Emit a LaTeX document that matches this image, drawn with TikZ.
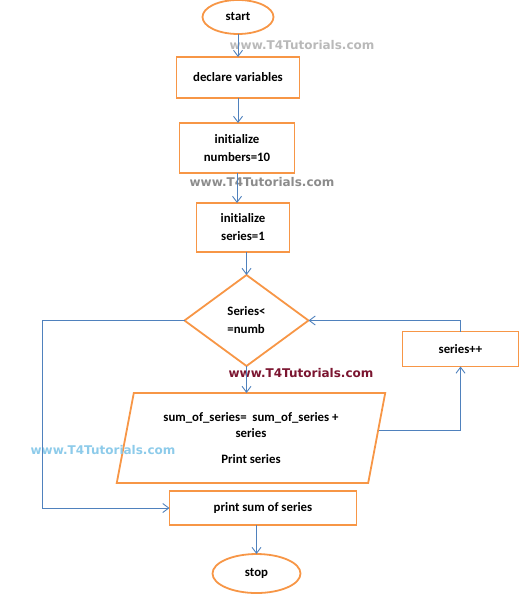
\documentclass[tikz,border=0pt]{standalone}
\usepackage{fontspec}
\setmainfont{Carlito}[Ligatures=NoCommon]
\newfontfamily\markfont{DejaVu Sans}
\usepackage{xcolor}
\usetikzlibrary{shapes.geometric, positioning, arrows.meta}
\definecolor{flowOrange}{HTML}{F79646}
\definecolor{flowBlue}{HTML}{4F81BD}
\definecolor{markRed}{HTML}{7B1530}
\definecolor{markBlue}{HTML}{8DCBEA}
\newcommand{\boxcolor}{flowOrange}
\newcommand{\linkcolor}{flowBlue}
\tikzstyle{terminal} = [ellipse, inner sep=0pt, outer sep=0pt,
draw=\boxcolor, line width=1.8pt,
font=\fontsize{12.8}{18}\selectfont\bfseries]
\tikzstyle{process} = [rectangle, align=center, outer sep=0pt,
draw=\boxcolor, line width=1.8pt,
font=\fontsize{12.8}{18}\selectfont\bfseries]
\tikzstyle{decision} = [diamond, align=left, inner sep=0pt, outer sep=0pt,
draw=\boxcolor, line width=1.8pt,
font=\fontsize{12.8}{18}\selectfont\bfseries]
\tikzstyle{inout} = [trapezium,
trapezium stretches=true,
trapezium left angle=76,
trapezium right angle=104,
align=center, inner sep=0pt, outer sep=0pt,
draw=\boxcolor, line width=1.8pt,
font=\fontsize{12.8}{16}\selectfont\bfseries]
\tikzstyle{arrow} = [draw=\linkcolor, line width=0.9pt,
-{Straight Barb[length=6pt,width=9pt]}]
\tikzstyle{watermark} = [inner sep=0pt,
font=\markfont\fontsize{12}{14}\selectfont\bfseries]

\begin{document}
\begin{tikzpicture}[node distance=25pt]
\useasboundingbox (0,0) rectangle (525pt,-596pt);

%-----------start and set up
\node (start) [terminal, minimum width=71pt, minimum height=34pt]
  at (238pt,-17pt) {start};
\node (decl) [process, minimum width=123pt, minimum height=41pt,
  below=23pt of start] {declare variables};
\node (numbers) [process, minimum width=115pt, minimum height=50pt,
  below=25pt of decl, xshift=-1pt] {initialize\\numbers=10};
\node (series) [process, minimum width=93pt, minimum height=49pt,
  below=30pt of numbers, xshift=6pt] {initialize\\series=1};

%-----------the loop
\node (test) [decision, minimum width=124pt, minimum height=91pt,
  below=23pt of series, xshift=3.5pt] {Series<\\=numb};
\node (incr) [process, minimum width=116pt, minimum height=35pt,
  right=94pt of test, yshift=-28.5pt] {series++};
\node (sum) [inout, minimum width=269pt, minimum height=90pt,
  below=27pt of test, xshift=4.5pt]
  {sum\_of\_series=~ sum\_of\_series +\\series\\[10pt]Print series};

%-----------the end
\node (total) [process, minimum width=187pt, minimum height=34pt,
  below=8pt of sum, xshift=12pt] {print sum of series};
\node (stop) [terminal, minimum width=88pt, minimum height=39pt,
  below=29pt of total, xshift=-6.5pt] {stop};

%-----------watermarks
\node (mark1) [watermark, text=gray!55] at (302pt,-45pt) {www.T4Tutorials.com};
\node (mark2) [watermark, text=gray!90] at (262pt,-182pt) {www.T4Tutorials.com};
\node (mark3) [watermark, text=markRed] at (301pt,-373pt) {www.T4Tutorials.com};
\node (mark4) [watermark, text=markBlue] at (103pt,-450pt) {www.T4Tutorials.com};

\coordinate [left=142pt of test.west] (bend);

\draw [arrow] (start) -- (decl);
\draw [arrow] (decl.south) -- (decl.south |- numbers.north);
\draw [arrow] (numbers.south) -- (numbers.south |- series.north);
\draw [arrow] (test.north |- series.south) -- (test.north);
\draw [arrow] (test.south) -- (test.south |- sum.north);
\draw [arrow] ([xshift=2pt,yshift=8pt]sum.east) -| (incr.south);
\draw [arrow] (incr.north) |- (test.east);
\draw [arrow] (test.west) -- (bend) |- (total.west);
\draw [arrow] (stop.north |- total.south) -- (stop.north);

\end{tikzpicture}
\end{document}
